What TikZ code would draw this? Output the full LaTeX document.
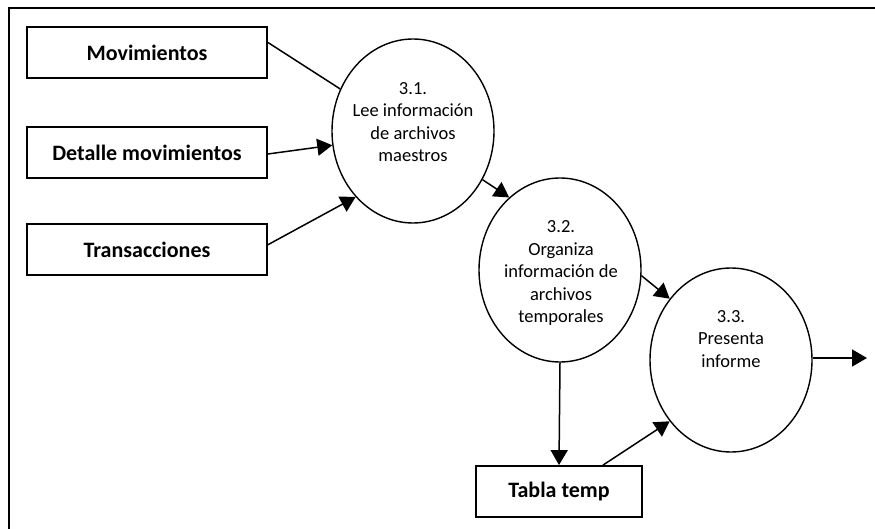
\documentclass[tikz,border=0pt]{standalone}
\usepackage{fontspec}
\setmainfont{Carlito}
\usetikzlibrary{shapes.geometric,arrows.meta,calc}
\begin{document}
\begin{tikzpicture}[x=1pt,y=-1pt,
  store/.style={draw,line width=1.8pt,minimum width=240pt,minimum height=51pt,inner sep=0pt,
    font=\fontsize{22}{26}\selectfont\bfseries},
  proc/.style={draw,ellipse,line width=1.4pt,minimum width=162pt,minimum height=184pt,inner sep=0pt},
  ptext/.style={align=center,font=\fontsize{18.5}{22.5}\selectfont},
  flow/.style={line width=1.5pt,-{Triangle[length=15pt,width=17pt]}},
  plain/.style={line width=1.5pt}]
\useasboundingbox (0,0) rectangle (875,529);
% outer frame
\draw[line width=2.5pt] (9,529) -- (9,8) -- (875,8);
% data stores
\node[store] (mov) at (147,52.5) {Movimientos};
\node[store] (det) at (147,152.5) {Detalle movimientos};
\node[store] (tra) at (147,249.5) {Transacciones};
\node[store,minimum width=166pt] (tab) at (559,491.5) {Tabla temp};
% processes
\node[proc] (p1) at (413,131) {};
\node[ptext] (t1) at (413,122) {3.1.\\Lee información\\de archivos\\maestros};
\node[proc] (p2) at (560,270) {};
\node[ptext] (t2) at (561,273) {3.2.\\Organiza\\información de\\archivos\\temporales};
\node[proc] (p3) at (731,360) {};
\node[ptext] (t3) at (731,339) {3.3.\\Presenta\\informe};
\coordinate (out) at (867,358);
% flows
\draw[plain] ($(mov.north east)!0.31!(mov.south east)$) -- (p1.150);
\draw[flow] ($(det.east)+(0,1.5)$) -- (p1.190);
\draw[flow] ($(tra.north east)!0.41!(tra.south east)$) -- (p1.229);
\draw[flow] (p1.-35) -- (p2.125);
\draw[flow] (p2.-4) -- (p3.135);
\draw[flow] (p2.south) -- (tab.north);
\draw[flow] ($(tab.north)+(44,0)$) -- (p3.225);
\draw[flow] (p3.east |- out) -- (out);
\end{tikzpicture}
\end{document}
